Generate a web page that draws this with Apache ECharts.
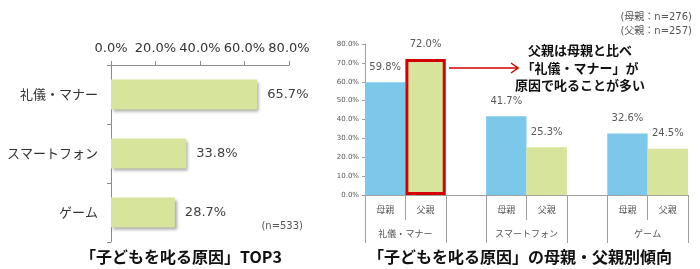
<!DOCTYPE html>
<html>
<head>
<meta charset="utf-8">
<script src="https://cdn.jsdelivr.net/npm/echarts@6/dist/echarts.min.js"></script>
<style>
  html, body { margin: 0; padding: 0; background: #fff; }
  #chart { width: 700px; height: 269px; }
</style>
</head>
<body>
<div id="chart"></div>
<script>
// Top 3 reasons for scolding children (all respondents, n=533)
const topCategories = ['礼儀・マナー', 'スマートフォン', 'ゲーム'];
const topValues = [65.7, 33.8, 28.7];
const topTicks = [0, 20, 40, 60, 80];

// Same reasons split by parent
const parentGroups = ['礼儀・マナー', 'スマートフォン', 'ゲーム'];
const motherValues = [59.8, 41.7, 32.6];
const fatherValues = [72.0, 25.3, 24.5];
const parentLabels = ['母親', '父親'];
const parentTicks = [0, 10, 20, 30, 40, 50, 60, 70, 80];

const GREEN = '#d6e49c';
const BLUE = '#7cc8ea';
const RED = '#d40000';
const LATIN = "'DejaVu Sans', 'Noto Sans CJK JP', sans-serif";
const CJK = "'Noto Sans CJK JP', 'DejaVu Sans', sans-serif";

// Right chart: each group takes two slots (mother, father) followed by an empty spacer slot
const slotLabels = [];
const motherSlots = [];
const fatherSlots = [];
parentGroups.forEach((g, i) => {
  slotLabels.push(parentLabels[0], parentLabels[1]);
  motherSlots.push(motherValues[i], null);
  fatherSlots.push(null, fatherValues[i]);
  if (i < parentGroups.length - 1) {
    slotLabels.push('');
    motherSlots.push(null);
    fatherSlots.push(null);
  }
});
// Highlight the father's manners bar
fatherSlots[1] = {
  value: fatherSlots[1],
  itemStyle: { borderColor: RED, borderWidth: 3 }
};

// Group-level axis runs over slot edges; ticks mark each group's outer edges
const edgeCount = slotLabels.length + 1;
const edgeLabels = [];
const groupEdges = [];
for (let i = 0; i < edgeCount; i++) edgeLabels.push('');
parentGroups.forEach((g, i) => {
  groupEdges.push(i * 3, i * 3 + 2);
  edgeLabels[i * 3 + 1] = g;
});

const pct = v => Number(v).toFixed(1) + '%';

const chart = echarts.init(document.getElementById('chart'));
chart.setOption({
  animation: false,
  backgroundColor: '#fff',
  grid: [
    { left: 111, top: 65, width: 178, height: 177 },
    { left: 365, top: 44, width: 323, height: 151 }
  ],
  xAxis: [
    {
      gridIndex: 0, type: 'value', position: 'top',
      min: topTicks[0], max: topTicks[topTicks.length - 1], interval: topTicks[1] - topTicks[0],
      axisLine: { show: true, lineStyle: { color: '#8c8c8c' } },
      axisTick: { show: true, length: 4, lineStyle: { color: '#8c8c8c' } },
      splitLine: { show: false },
      axisLabel: { formatter: pct, fontSize: 13, color: '#333', fontFamily: LATIN, margin: 10 }
    },
    {
      gridIndex: 1, type: 'category', position: 'bottom',
      data: slotLabels, boundaryGap: true,
      axisLine: { show: true, lineStyle: { color: '#a0a0a0' } },
      axisTick: { show: true, interval: 0, length: 25, lineStyle: { color: '#a0a0a0' } },
      axisLabel: { interval: 0, fontSize: 9, color: '#555', fontFamily: CJK, margin: 10 }
    },
    {
      gridIndex: 1, type: 'category', position: 'bottom',
      data: edgeLabels, boundaryGap: false,
      axisLine: { show: false },
      axisTick: {
        show: true, length: 48, lineStyle: { color: '#a0a0a0' },
        interval: (idx) => groupEdges.indexOf(idx) >= 0
      },
      axisLabel: { interval: 0, fontSize: 9, color: '#555', fontFamily: CJK, margin: 34 }
    }
  ],
  yAxis: [
    {
      gridIndex: 0, type: 'category', inverse: true, data: topCategories,
      axisLine: { show: true, lineStyle: { color: '#8c8c8c' } },
      axisTick: { show: true, length: 4, lineStyle: { color: '#8c8c8c' } },
      axisLabel: { fontSize: 13, color: '#333', fontFamily: CJK, margin: 13 }
    },
    {
      gridIndex: 1, type: 'value',
      min: parentTicks[0], max: parentTicks[parentTicks.length - 1], interval: parentTicks[1] - parentTicks[0],
      axisLine: { show: true, lineStyle: { color: '#a0a0a0' } },
      axisTick: { show: true, length: 3, lineStyle: { color: '#a0a0a0' } },
      splitLine: { show: false },
      axisLabel: { formatter: pct, fontSize: 7, color: '#555', fontFamily: LATIN, margin: 6 }
    }
  ],
  series: [
    {
      type: 'bar', xAxisIndex: 0, yAxisIndex: 0, data: topValues, barWidth: 30,
      itemStyle: {
        color: GREEN, shadowColor: 'rgba(0,0,0,0.35)', shadowBlur: 3,
        shadowOffsetX: 2, shadowOffsetY: 2
      },
      label: {
        show: true, position: 'right', distance: 10, formatter: p => pct(p.value),
        fontSize: 13, color: '#404040', fontFamily: LATIN
      }
    },
    {
      type: 'bar', xAxisIndex: 1, yAxisIndex: 1, data: motherSlots,
      barWidth: '100%', barGap: '-100%',
      itemStyle: { color: BLUE },
      label: {
        show: true, position: 'top', distance: 10, formatter: p => pct(p.value),
        fontSize: 10, color: '#595959', fontFamily: LATIN
      }
    },
    {
      type: 'bar', xAxisIndex: 1, yAxisIndex: 1, data: fatherSlots,
      barWidth: '100%', barGap: '-100%',
      itemStyle: { color: GREEN },
      label: {
        show: true, position: 'top', distance: 10, formatter: p => pct(p.value),
        fontSize: 10, color: '#595959', fontFamily: LATIN
      }
    }
  ],
  graphic: [
    {
      type: 'text', position: [181, 257],
      style: {
        text: '「子どもを叱る原因」TOP3', align: 'center', verticalAlign: 'middle',
        font: "bold 16px 'Noto Sans CJK JP', sans-serif", fill: '#111'
      }
    },
    {
      type: 'text', position: [520, 257],
      style: {
        text: '「子どもを叱る原因」の母親・父親別傾向', align: 'center', verticalAlign: 'middle',
        font: "bold 16px 'Noto Sans CJK JP', sans-serif", fill: '#111'
      }
    },
    {
      type: 'text', position: [303, 226],
      style: {
        text: '(n=533)', align: 'right', verticalAlign: 'middle',
        font: "10px 'DejaVu Sans', sans-serif", fill: '#555'
      }
    },
    {
      type: 'text', position: [692, 17],
      style: {
        text: '(母親：n=276)', align: 'right', verticalAlign: 'middle',
        font: "10px 'DejaVu Sans', 'Noto Sans CJK JP', sans-serif", fill: '#555'
      }
    },
    {
      type: 'text', position: [692, 31],
      style: {
        text: '(父親：n=257)', align: 'right', verticalAlign: 'middle',
        font: "10px 'DejaVu Sans', 'Noto Sans CJK JP', sans-serif", fill: '#555'
      }
    },
    {
      type: 'text', position: [580, 68],
      style: {
        text: '父親は母親と比べ\n「礼儀・マナー」が\n原因で叱ることが多い',
        align: 'center', verticalAlign: 'middle', lineHeight: 17.5,
        font: "bold 13px 'Noto Sans CJK JP', sans-serif", fill: '#111'
      }
    },
    {
      type: 'line', shape: { x1: 449, y1: 68, x2: 518, y2: 68 },
      style: { stroke: RED, lineWidth: 1.5 }
    },
    {
      type: 'polyline', shape: { points: [[511, 63], [518, 68], [511, 73]] },
      style: { stroke: RED, lineWidth: 1.5, fill: null }
    }
  ]
});
</script>
</body>
</html>
